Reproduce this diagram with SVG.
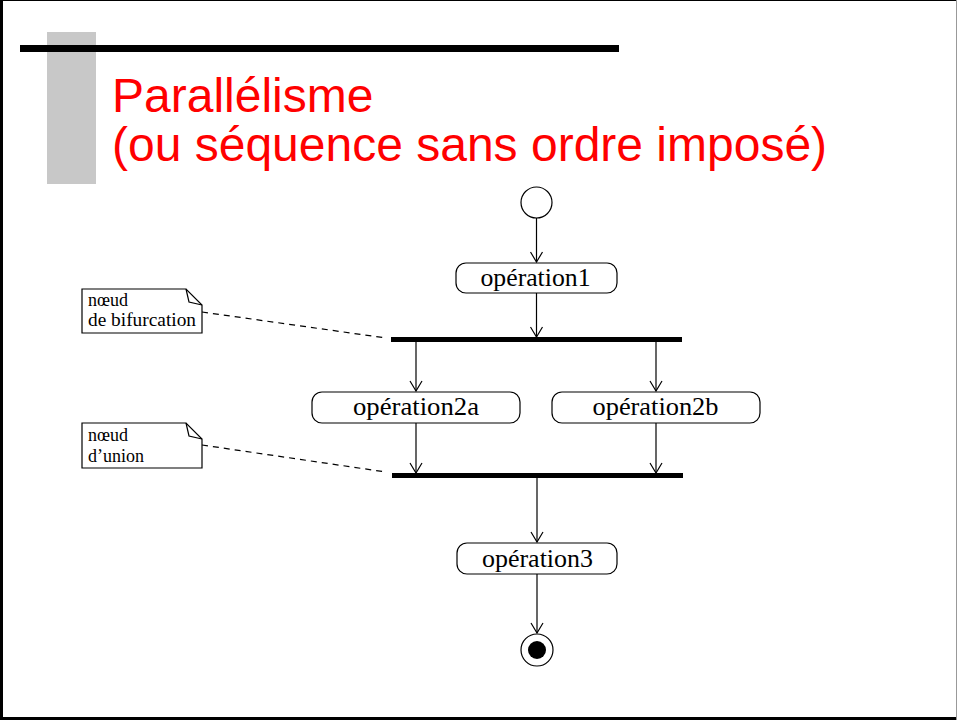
<svg xmlns="http://www.w3.org/2000/svg" width="957" height="720" viewBox="0 0 957 720">
<defs>
<style>
.title{font-family:"Liberation Sans",Arial,sans-serif;font-size:48px;fill:#ff0000}
.op{font-family:"Liberation Serif","Times New Roman",serif;font-size:25.5px;fill:#000;text-anchor:middle}
.note{font-family:"Liberation Serif","Times New Roman",serif;font-size:18px;fill:#000}
.box{fill:#fff;stroke:#000;stroke-width:1.2}
.bar{fill:#000}
.edge{fill:none;stroke:#000;stroke-width:1.2}
.dash{fill:none;stroke:#000;stroke-width:1.2;stroke-dasharray:6,5}
</style>
<marker id="arr" viewBox="0 0 12 14" refX="11" refY="7" markerWidth="12" markerHeight="14" markerUnits="userSpaceOnUse" orient="auto">
<path d="M1,1 L11,7 L1,13" fill="none" stroke="#000" stroke-width="1.2"/>
</marker>
</defs>
<rect x="0" y="0" width="957" height="720" fill="#fff"/>
<line x1="0" y1="0.5" x2="957" y2="0.5" stroke="#000" stroke-width="1"/>
<rect x="0" y="0" width="3" height="720" fill="#000"/>
<rect x="0" y="717" width="957" height="3" fill="#000"/>
<line x1="956.5" y1="0" x2="956.5" y2="720" stroke="#999" stroke-width="1"/>
<g id="header">
<rect x="47" y="32" width="49" height="152" fill="#c8c8c8"/>
<rect x="20" y="45" width="599" height="7" fill="#000"/>
<text class="title" x="112" y="112">Parallélisme</text>
<text class="title" x="112" y="161">(ou séquence sans ordre imposé)</text>
</g>
<g id="start"><circle cx="536.5" cy="202.5" r="15.5" fill="#fff" stroke="#000" stroke-width="1.2"/></g>
<g id="op1"><rect class="box" x="456" y="263" width="161" height="30" rx="10"/><text class="op" x="535.5" y="286" textLength="110" lengthAdjust="spacingAndGlyphs">opération1</text></g>
<g id="fork"><rect class="bar" x="391" y="337" width="291" height="5"/></g>
<g id="op2a"><rect class="box" x="312" y="392" width="208" height="31" rx="10"/><text class="op" x="416" y="415" textLength="126" lengthAdjust="spacingAndGlyphs">opération2a</text></g>
<g id="op2b"><rect class="box" x="552" y="392" width="208" height="31" rx="10"/><text class="op" x="655.5" y="415" textLength="126" lengthAdjust="spacingAndGlyphs">opération2b</text></g>
<g id="join"><rect class="bar" x="392" y="473" width="291" height="5"/></g>
<g id="op3"><rect class="box" x="457" y="543" width="160" height="31" rx="10"/><text class="op" x="537.5" y="567" textLength="111" lengthAdjust="spacingAndGlyphs">opération3</text></g>
<g id="end"><circle cx="537" cy="650" r="16" fill="#fff" stroke="#000" stroke-width="1.2"/><circle cx="537" cy="650" r="9" fill="#000"/></g>
<g id="note1"><path class="box" d="M82,289 H186 L202,305 V333 H82 Z"/><path d="M186,289 L189,302 L202,305" fill="none" stroke="#000" stroke-width="1.2"/><text class="note" x="88" y="306">nœud</text><text class="note" x="88" y="326" textLength="108" lengthAdjust="spacingAndGlyphs">de bifurcation</text></g>
<g id="note2"><path class="box" d="M82,423 H186 L202,439 V468 H82 Z"/><path d="M186,423 L189,436 L202,439" fill="none" stroke="#000" stroke-width="1.2"/><text class="note" x="88" y="441">nœud</text><text class="note" x="88" y="462">d’union</text></g>
<g id="connectors">
<line class="edge" x1="536.5" y1="218" x2="536.5" y2="262" marker-end="url(#arr)"/>
<line class="edge" x1="536.5" y1="293" x2="536.5" y2="337" marker-end="url(#arr)"/>
<line class="edge" x1="416" y1="342" x2="416" y2="391" marker-end="url(#arr)"/>
<line class="edge" x1="656" y1="342" x2="656" y2="391" marker-end="url(#arr)"/>
<line class="edge" x1="416" y1="423" x2="416" y2="473" marker-end="url(#arr)"/>
<line class="edge" x1="656" y1="423" x2="656" y2="473" marker-end="url(#arr)"/>
<line class="edge" x1="537" y1="478" x2="537" y2="542" marker-end="url(#arr)"/>
<line class="edge" x1="537" y1="574" x2="537" y2="633" marker-end="url(#arr)"/>
<line class="dash" x1="202" y1="312" x2="386" y2="338"/>
<line class="dash" x1="202" y1="445" x2="386" y2="472"/>
</g>
</svg>
